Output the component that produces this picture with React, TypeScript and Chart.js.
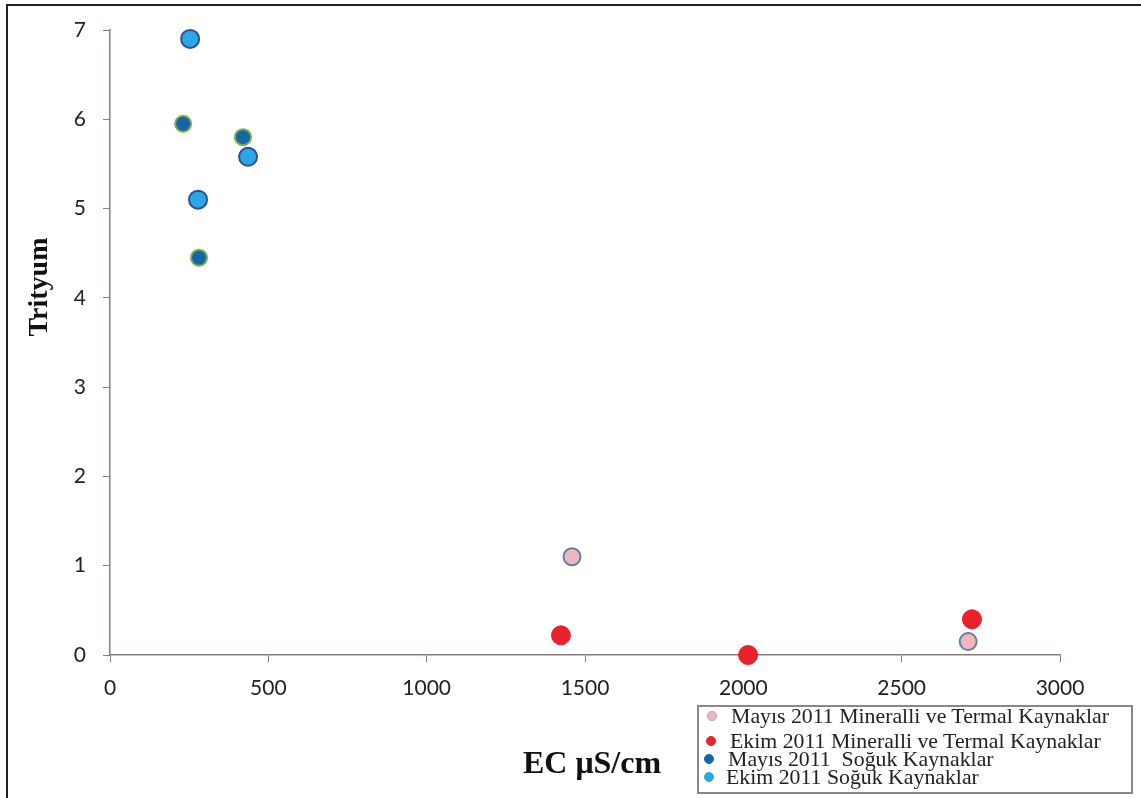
import React, { useEffect, useRef } from "react";
import { Chart, registerables } from "chart.js";

Chart.register(...registerables);

const xTicks = [0, 500, 1000, 1500, 2000, 2500, 3000];
const yTicks = [0, 1, 2, 3, 4, 5, 6, 7];

const mayisMineralliEC = [1459, 2710];
const mayisMineralliT = [1.1, 0.15];
const ekimMineralliEC = [1424, 2015, 2722];
const ekimMineralliT = [0.22, 0.0, 0.4];
const mayisSogukEC = [231, 420, 281];
const mayisSogukT = [5.95, 5.8, 4.45];
const ekimSogukEC = [253, 436, 278];
const ekimSogukT = [6.9, 5.58, 5.1];

const seriesNames = [
  "Mayıs 2011 Mineralli ve Termal Kaynaklar",
  "Ekim 2011 Mineralli ve Termal Kaynaklar",
  "Mayıs 2011  Soğuk Kaynaklar",
  "Ekim 2011 Soğuk Kaynaklar",
];

const toPts = (xs: number[], ys: number[]) => xs.map((x, i) => ({ x, y: ys[i] }));

export default function App() {
  const ref = useRef<HTMLCanvasElement | null>(null);
  useEffect(() => {
    if (!ref.current) return;
    const chart = new Chart(ref.current, {
      type: "scatter",
      data: {
        datasets: [
          {
            label: seriesNames[0],
            data: toPts(mayisMineralliEC, mayisMineralliT),
            backgroundColor: "#f2b6be",
            borderColor: "#5f7fa6",
            borderWidth: 2,
            pointRadius: 8.5,
            clip: false,
          },
          {
            label: seriesNames[1],
            data: toPts(ekimMineralliEC, ekimMineralliT),
            backgroundColor: "#e8212b",
            borderColor: "#e8212b",
            borderWidth: 1,
            pointRadius: 9.5,
            clip: false,
          },
          {
            label: seriesNames[2],
            data: toPts(mayisSogukEC, mayisSogukT),
            backgroundColor: "#1565a8",
            borderColor: "#78ae52",
            borderWidth: 2,
            pointRadius: 8,
            clip: false,
          },
          {
            label: seriesNames[3],
            data: toPts(ekimSogukEC, ekimSogukT),
            backgroundColor: "#2aa8e6",
            borderColor: "#2e4f9a",
            borderWidth: 2,
            pointRadius: 9,
            clip: false,
          },
        ],
      },
      options: {
        animation: false,
        responsive: false,
        maintainAspectRatio: false,
        layout: { padding: { left: 0, top: 30, right: 81, bottom: 0 } },
        plugins: { legend: { display: false }, tooltip: { enabled: false } },
        scales: {
          x: {
            type: "linear",
            min: 0,
            max: 3000,
            afterBuildTicks: (s: any) => {
              s.ticks = xTicks.map((v) => ({ value: v }));
            },
            afterFit: (s: any) => {
              s.height = 143;
            },
            border: { display: true, color: "#8c7b78", width: 1.5 },
            grid: { drawOnChartArea: false, drawTicks: true, tickLength: 7, color: "#8c7b78" },
            ticks: {
              color: "#222",
              padding: 14,
              font: { family: "Lato", size: 21 },
              maxRotation: 0,
              callback: (v: any) => String(v),
            },
          },
          y: {
            type: "linear",
            min: 0,
            max: 7,
            afterBuildTicks: (s: any) => {
              s.ticks = yTicks.map((v) => ({ value: v }));
            },
            afterFit: (s: any) => {
              s.width = 110;
            },
            border: { display: true, color: "#8c7b78", width: 1.5 },
            grid: { drawOnChartArea: false, drawTicks: true, tickLength: 7, color: "#8c7b78" },
            ticks: {
              color: "#222",
              padding: 17,
              font: { family: "Lato", size: 21 },
              callback: (v: any) => String(v),
            },
          },
        },
      },
    });
    return () => chart.destroy();
  }, []);

  const legendColors = [
    { bg: "#f2b6be", bd: "#b89aa6" },
    { bg: "#e8212b", bd: "#e8212b" },
    { bg: "#1565a8", bd: "#1565a8" },
    { bg: "#2aa8e6", bd: "#2aa8e6" },
  ];
  const legendRows = [
    { top: 704, mx: 712, tx: 731 },
    { top: 729, mx: 711, tx: 730 },
    { top: 747, mx: 709, tx: 728 },
    { top: 765, mx: 709, tx: 726 },
  ];

  return (
    <div
      style={{
        position: "fixed",
        left: 0,
        top: 0,
        width: 1141,
        height: 798,
        background: "#fff",
        overflow: "hidden",
      }}
    >
      <canvas ref={ref} width={1141} height={798} style={{ position: "absolute", left: 0, top: 0 }} />
      <div
        style={{
          position: "absolute",
          left: 6,
          top: 4,
          width: 1133,
          height: 800,
          borderLeft: "2px solid #222",
          borderTop: "2px solid #222",
          borderRight: "1px solid #ddd",
          pointerEvents: "none",
        }}
      />
      <div
        style={{
          position: "absolute",
          left: 38,
          top: 287,
          transform: "translate(-50%, -50%) rotate(-90deg)",
          fontFamily: "'Liberation Serif', serif",
          fontWeight: "bold",
          fontSize: 28,
          color: "#111",
          whiteSpace: "nowrap",
        }}
      >
        Trityum
      </div>
      <div
        style={{
          position: "absolute",
          left: 592,
          top: 762,
          transform: "translate(-50%, -50%)",
          fontFamily: "'Liberation Serif', serif",
          fontWeight: "bold",
          fontSize: 32,
          color: "#111",
          whiteSpace: "nowrap",
        }}
      >
        EC μS/cm
      </div>
      <div
        style={{
          position: "absolute",
          left: 697,
          top: 705,
          width: 436,
          height: 89,
          border: "2px solid #888",
          background: "#fff",
          boxSizing: "border-box",
        }}
      />
      {legendRows.map((r, i) => (
        <React.Fragment key={i}>
          <div
            style={{
              position: "absolute",
              left: r.mx - 5,
              top: r.top + 12 - 5,
              width: 10,
              height: 10,
              borderRadius: "50%",
              background: legendColors[i].bg,
              boxSizing: "border-box",
              border: `1px solid ${legendColors[i].bd}`,
            }}
          />
          <div
            style={{
              position: "absolute",
              left: r.tx,
              top: r.top,
              fontFamily: "'Liberation Serif', serif",
              fontSize: 21.8,
              lineHeight: "24px",
              color: "#222",
              whiteSpace: "pre",
            }}
          >
            {seriesNames[i]}
          </div>
        </React.Fragment>
      ))}
    </div>
  );
}
